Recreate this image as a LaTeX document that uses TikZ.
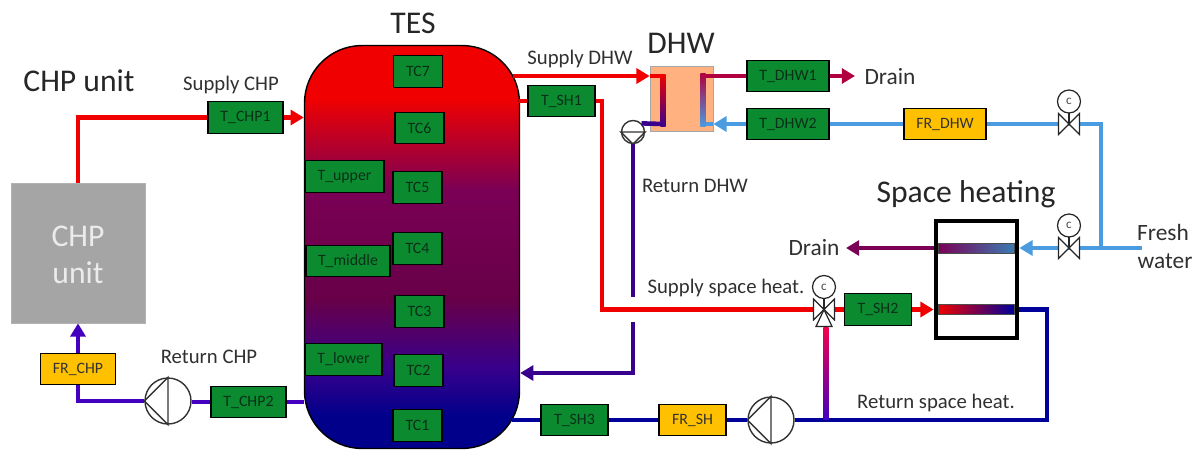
\documentclass[tikz,border=0pt]{standalone}
\usepackage{fontspec}
\setmainfont{Carlito}
\usetikzlibrary{arrows.meta}
\usetikzlibrary{positioning}
\definecolor{sensorgreen}{HTML}{0B8A30}
\definecolor{flowamber}{HTML}{FFC000}
\definecolor{unitgrey}{HTML}{A5A5A5}
\definecolor{hxorange}{HTML}{FFB27F}
\definecolor{hotred}{HTML}{F00000}
\definecolor{watercol}{HTML}{4A9BE0}
\definecolor{coldnavy}{HTML}{00009A}
\definecolor{retchp}{HTML}{4400BE}
\definecolor{retdhw}{HTML}{38008C}
\definecolor{crimson}{HTML}{B00040}
\definecolor{draincol}{HTML}{7A0055}
\definecolor{labelgrey}{HTML}{303030}
\definecolor{sensortext}{HTML}{0A3018}
\pgfdeclareverticalshading{tankfade}{100bp}{
	color(0bp)=(coldnavy!90!black); color(29bp)=(coldnavy!90!black);
	color(35bp)=(retdhw); color(43.5bp)=(draincol!85!black);
	color(57bp)=(draincol); color(68.5bp)=(hotred); color(100bp)=(hotred)}
\tikzset{
	sensor/.style={draw=black, line width=0.7pt, fill=sensorgreen, inner sep=0pt, minimum height=0.63cm, text=sensortext, font=\fontsize{9}{10}\selectfont},
	flowmeter/.style={sensor, fill=flowamber, text=black!80},
	tcbox/.style={sensor, minimum width=0.98cm},
	pipe/.style={line width=2.6pt},
	arrowpipe/.style={pipe, -{Triangle[length=7.5pt,width=8.5pt]}},
	pump/.style={draw=black!80, fill=white, circle, line width=0.8pt, inner sep=0pt},
	lbl/.style={text=labelgrey, inner sep=0pt, font=\fontsize{11.8}{13}\selectfont},
	biglbl/.style={lbl, font=\fontsize{13.3}{15}\selectfont},
	heading/.style={text=black!85, inner sep=0pt, font=\fontsize{18}{20}\selectfont},
	valve/.pic={
		\draw[fill=white, draw=black!85, line width=0.7pt] (-10.5,-10.5) -- (10.5,10.5) -- (10.5,-10.5) -- (-10.5,10.5) -- cycle;
		\draw[draw=black!85, line width=0.7pt] (0,0) -- (0,-12);
		\node[draw=black!85, fill=white, circle, line width=0.7pt, inner sep=0pt, minimum size=0.46cm, text=black!70, font=\fontsize{7.5}{8}\selectfont] (-c) at (0,-22.5) {c};
	}
}
\begin{document}
\begin{tikzpicture}[x=0.02cm, y=-0.02cm]
	\useasboundingbox (0,0) rectangle (1203,453);
	% tank and units
	\node[shade, shading=tankfade, draw=black, line width=0.8pt, rounded corners=1.15cm, minimum width=4.3cm, minimum height=8.06cm, inner sep=0pt] (tes) at (412,247) {};
	\node[fill=unitgrey, draw=black!30, inner sep=0pt, minimum width=2.68cm, minimum height=2.8cm] (chp) at (78,253) {};
	\node[fill=hxorange, draw=black!35, inner sep=0pt, minimum width=1.26cm, minimum height=1.3cm] (hx) at (681.5,98.5) {};
	% sensors in the tank
	\node[tcbox] (tc7) at (418,71.5) {TC7};
	\node[tcbox] (tc6) at (419.5,128) {TC6};
	\node[tcbox] (tc5) at (417.5,187.5) {TC5};
	\node[tcbox] (tc4) at (417.5,248.5) {TC4};
	\node[tcbox] (tc3) at (419.5,311.5) {TC3};
	\node[tcbox] (tc2) at (418.5,370.5) {TC2};
	\node[tcbox] (tc1) at (417.5,425.5) {TC1};
	\node[sensor, minimum width=1.58cm] (tupper) at (344.5,176.5) {T\_upper};
	\node[sensor, minimum width=1.68cm] (tmiddle) at (348,261) {T\_middle};
	\node[sensor, minimum width=1.54cm] (tlower) at (343.5,359.5) {T\_lower};
	% sensors and meters on the pipes
	\node[sensor, minimum width=1.5cm] (tchp1) at (245.5,117.5) {T\_CHP1};
	\node[sensor, minimum width=1.5cm] (tchp2) at (248.5,402) {T\_CHP2};
	\node[flowmeter, minimum width=1.5cm] (frchp) at (78,369) {FR\_CHP};
	\node[sensor, minimum width=1.34cm] (tsh1) at (561.5,101) {T\_SH1};
	\node[sensor, minimum width=1.34cm] (tsh2) at (878,309.5) {T\_SH2};
	\node[sensor, minimum width=1.34cm] (tsh3) at (574.5,420) {T\_SH3};
	\node[flowmeter, minimum width=1.34cm] (frsh) at (692.5,420) {FR\_SH};
	\node[sensor, minimum width=1.64cm] (tdhw1) at (788,76) {T\_DHW1};
	\node[sensor, minimum width=1.64cm] (tdhw2) at (788,124) {T\_DHW2};
	\node[flowmeter, minimum width=1.64cm] (frdhw) at (945,124) {FR\_DHW};
	% pumps
	\node[pump, minimum size=0.92cm] (pumpchp) at (168,401) {};
	\node[pump, minimum size=0.92cm] (pumpsh) at (771,420) {};
	\node[pump, minimum size=0.46cm] (pumpdhw) at (633,132) {};
	\draw[draw=black!80, line width=0.8pt] (pumpchp.west) -- (pumpchp.north) -- (pumpchp.south) -- cycle;
	\draw[draw=black!80, line width=0.8pt] (pumpsh.west) -- (pumpsh.north) -- (pumpsh.south) -- cycle;
	\draw[draw=black!80, line width=0.8pt] (pumpdhw.south) -- (pumpdhw.east) -- (pumpdhw.west) -- cycle;
	% free pipe ends and corners
	\coordinate (tesdhw) at (513,76);
	\coordinate (tessh1) at (519,101);
	\coordinate (tessh3) at (512,420);
	\coordinate (vtop) at (1069,124);
	\coordinate (vlow) at (1069,248);
	\coordinate (vmix) at (824,309.5);
	\coordinate (fresh) at (1142,248);
	\coordinate (jfresh) at (1101,248);
	\coordinate (hxhotin) at (663,76);
	\coordinate (hxhotout) at (663,124);
	\coordinate (hxcoldin) at (703,124);
	\coordinate (hxcoldout) at (703,76);
	\coordinate (gaptop) at (633,297);
	\coordinate (gaplow) at (633,322);
	% space heating
	\node[inner sep=0pt, minimum width=1.52cm, minimum height=0.2cm, left color=draincol, right color=watercol!80!black, draw=black!70, line width=0.4pt] (coildrain) at (976,248) {};
	\node[inner sep=0pt, minimum width=1.52cm, minimum height=0.2cm, left color=hotred, right color=coldnavy, draw=black!70, line width=0.4pt] (coilheat) at (976,309.5) {};
	\node[draw=black, line width=2.7pt, inner sep=0pt, minimum width=1.62cm, minimum height=2.34cm] (shbox) at (976.5,279.5) {};
	% hot side
	\draw[pipe, hotred] (chp.north) |- (tchp1.west);
	\draw[arrowpipe, hotred] (tchp1.east) -- (tes.west |- tchp1);
	\draw[arrowpipe, hotred] (tesdhw) -- (hx.west |- tesdhw);
	\draw[pipe, hotred] (hx.west |- tesdhw) -- (hxhotin);
	\draw[pipe, hotred] (tessh1) -- (tsh1.west);
	\draw[pipe, hotred] (tsh1.east) -| (602,309.5) -- (vmix);
	\draw[arrowpipe, hotred] (vmix) -- (tsh2.west) (tsh2.east) -- (shbox.west |- tsh2);
	% return side
	\draw[arrowpipe, retchp] (pumpchp.west) -| (frchp.south) (frchp.north) -- (chp.south);
	\draw[pipe, retchp] (tchp2.west) -- (pumpchp.east |- tchp2);
	\draw[pipe, retchp] (tes.west |- tchp2) -- (tchp2.east);
	\draw[pipe, retdhw] (hxhotout) -- (pumpdhw.north east);
	\draw[pipe, retdhw] (pumpdhw.south) -- (gaptop);
	\draw[arrowpipe, retdhw] (gaplow) |- (tes.east |- 0,373);
	\draw[pipe, coldnavy] (tessh3) -- (tsh3.west) (tsh3.east) -- (frsh.west) (frsh.east) -- (pumpsh.west);
	\draw[pipe, coldnavy] (pumpsh.east) -- (1047,420) -- (1047,309.5) -- (shbox.east |- coilheat);
	% fresh water
	\draw[pipe, watercol] (fresh) -- (vlow);
	\draw[arrowpipe, watercol] (vlow) -- (shbox.east |- vlow);
	\draw[pipe, watercol] (jfresh) |- (vtop) -- (frdhw.east);
	\draw[pipe, watercol] (frdhw.west) -- (tdhw2.east);
	\draw[arrowpipe, watercol] (tdhw2.west) -- (hx.east |- tdhw2);
	\draw[pipe, watercol] (hx.east |- tdhw2) -- (hxcoldin);
	\draw[pipe, crimson] (hxcoldout) -- (tdhw1.west);
	\draw[arrowpipe, crimson] (tdhw1.east) -- (855,76);
	\draw[arrowpipe, draincol] (shbox.west |- coildrain) -- (846,248);
	% gradient runs
	\shade[top color=hotred, bottom color=retdhw] (660.4,74.6) rectangle (665.6,126.6);
	\shade[top color=crimson, bottom color=watercol] (700.4,73.4) rectangle (705.6,126.6);
	\shade[top color=hotred!70!magenta, bottom color=retchp] (823.4,327) rectangle (828.6,419);
	\pic (valvetop) at (vtop) {valve};
	\pic (valvelow) at (vlow) {valve};
	\pic (valvemix) at (vmix) {valve};
	\draw[fill=white, draw=black!85, line width=0.7pt] (vmix) -- ++(8,17) -- ++(-16,0) -- cycle;
	% labels
	\node[heading] (lchp) at (79,81) {CHP unit};
	\node[heading] (ltes) at (413,23) {TES};
	\node[heading] (ldhw) at (681,43) {DHW};
	\node[heading] (lspace) at (966,194) {Space heating};
	\node[heading, text=white!92!black] (lchpa) at (78,236) {CHP};
	\node[heading, text=white!92!black] (lchpb) at (78,273) {unit};
	\node[lbl] (lsupchp) at (231,85) {Supply CHP};
	\node[lbl] (lretchp) at (209,357) {Return CHP};
	\node[lbl] (lsupdhw) at (580,59) {Supply DHW};
	\node[lbl] (lretdhw) at (695,186) {Return DHW};
	\node[lbl] (lsupsh) at (726,288) {Supply space heat.};
	\node[lbl] (lretsh) at (936,403) {Return space heat.};
	\node[biglbl] (ldraina) at (890,77) {Drain};
	\node[biglbl] (ldrainb) at (814,248) {Drain};
	\node[biglbl] (lfresh) at (1163,232) {Fresh};
	\node[biglbl] (lwater) at (1165,261) {water};
\end{tikzpicture}
\end{document}
